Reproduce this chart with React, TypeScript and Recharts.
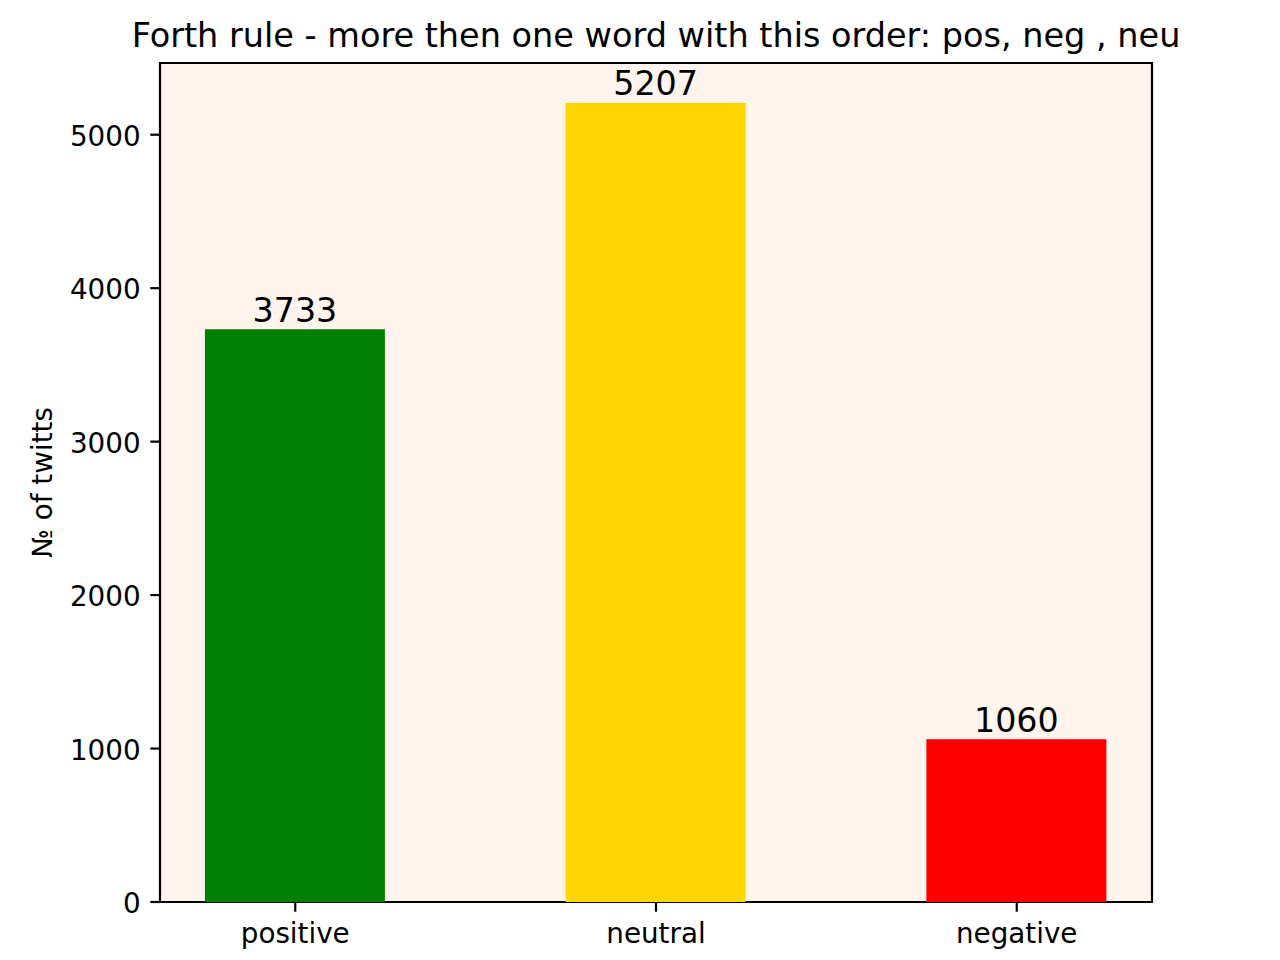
import React from 'react';
import { BarChart, Bar, XAxis, YAxis, CartesianGrid, Cell, LabelList, ReferenceArea } from 'recharts';

const categories = ['positive', 'neutral', 'negative'];
const counts = [3733, 5207, 1060];
const barColors = ['#008000', '#ffd700', '#ff0000'];
const yTicks = [0, 1000, 2000, 3000, 4000, 5000];
const xTicks = [0, 1, 2];
const titleText = 'Forth rule - more then one word with this order: pos, neg , neu';
const yLabelText = '№ of twitts';

const data = categories.map((c, i) => ({ idx: i, name: c, value: counts[i] }));

const FONT = '"DejaVu Sans", sans-serif';
const X_DOMAIN: [number, number] = [-0.375, 2.375];
const Y_MAX = 5207 * 1.05;

const renderValueLabel = (props: any) => {
  const { x, y, width, value } = props;
  return (
    <text
      x={Number(x) + Number(width) / 2}
      y={Number(y) - 7.5}
      textAnchor="middle"
      fontFamily={FONT}
      fontSize={33.3}
      fill="#000"
    >
      {value}
    </text>
  );
};

const renderYTick = (props: any) => {
  const { x, y, payload } = props;
  return (
    <text x={x} y={Number(y) + 11} textAnchor="end" fontFamily={FONT} fontSize={27.78} fill="#000">
      {payload.value}
    </text>
  );
};

export default function App() {
  return (
    <div style={{ position: 'absolute', left: 0, top: 0, width: 1280, height: 960, background: '#fff' }}>
      <BarChart
        width={1280}
        height={960}
        data={data}
        margin={{ top: 63, right: 128, bottom: 0, left: 0 }}
      >
        <CartesianGrid horizontal={false} vertical={false} fill="#fff5ee" />
        <XAxis
          dataKey="idx"
          type="number"
          domain={X_DOMAIN}
          ticks={xTicks}
          allowDataOverflow
          height={58}
          axisLine={false}
          tickLine={{ stroke: '#000', strokeWidth: 2.2 }}
          tickSize={9.7}
          tickMargin={11.5}
          tickFormatter={(v: number) => categories[v] ?? ''}
          tick={{ fontFamily: FONT, fontSize: 27.78, fill: '#000' }}
        />
        <YAxis
          type="number"
          domain={[0, Y_MAX]}
          ticks={yTicks}
          allowDataOverflow
          width={160}
          axisLine={false}
          tickLine={{ stroke: '#000', strokeWidth: 2.2 }}
          tickSize={9.7}
          tickMargin={9.7}
          tick={renderYTick}
        />
        <Bar dataKey="value" barSize={180} isAnimationActive={false}>
          {data.map((d, i) => (
            <Cell key={d.name} fill={barColors[i]} />
          ))}
          <LabelList dataKey="value" content={renderValueLabel} />
        </Bar>
        <ReferenceArea
          x1={X_DOMAIN[0]}
          x2={X_DOMAIN[1]}
          y1={0}
          y2={Y_MAX}
          fill="none"
          fillOpacity={0}
          stroke="#000"
          strokeWidth={2.2}
          strokeOpacity={1}
          ifOverflow="visible"
        />
      </BarChart>
      <svg
        width={1280}
        height={960}
        style={{ position: 'absolute', left: 0, top: 0, pointerEvents: 'none' }}
      >
        <text x={656} y={46.5} textAnchor="middle" fontFamily={FONT} fontSize={33.5} fill="#000">
          {titleText}
        </text>
        <text
          x={52}
          y={482.5}
          transform="rotate(-90, 52, 482.5)"
          textAnchor="middle"
          fontFamily={FONT}
          fontSize={27.78}
          fill="#000"
        >
          {yLabelText}
        </text>
      </svg>
    </div>
  );
}
